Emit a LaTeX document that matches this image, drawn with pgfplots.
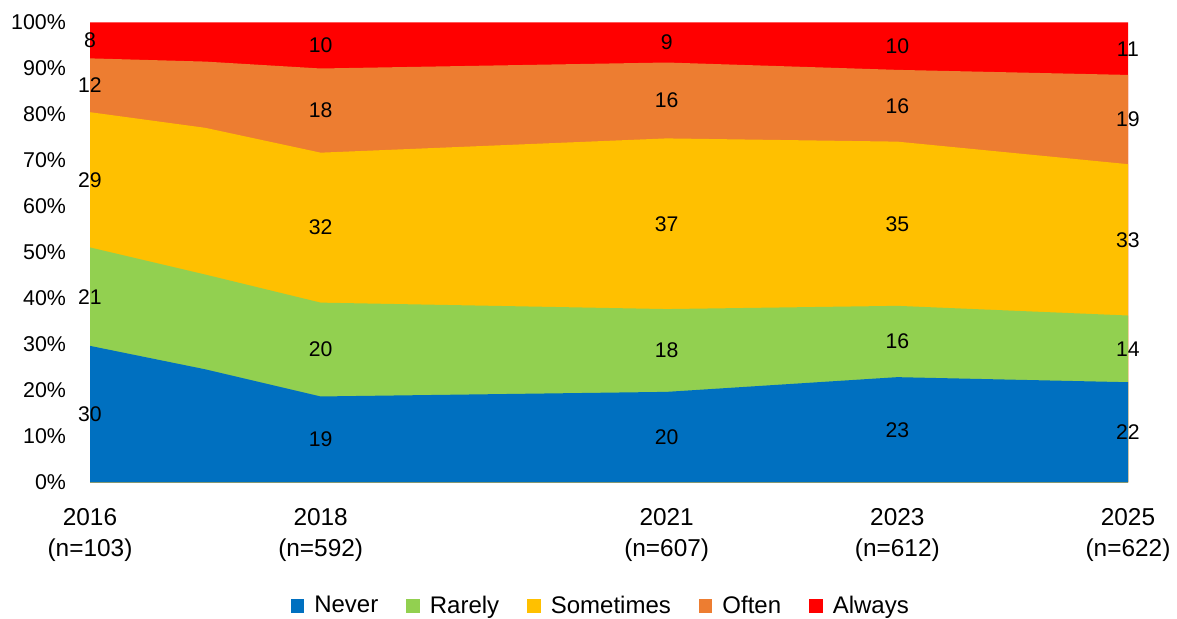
\documentclass[border=0pt]{standalone}
\usepackage{pgfplots}
\usepackage{pgfplotstable}
\pgfplotsset{compat=1.18}
\usepackage{fontspec}
\setmainfont{Liberation Sans}
\definecolor{cNever}{HTML}{0070C0}
\definecolor{cRarely}{HTML}{92D050}
\definecolor{cSometimes}{HTML}{FFC000}
\definecolor{cOften}{HTML}{ED7D31}
\definecolor{cAlways}{HTML}{FF0000}
% cumulative tops of each band (percent)
\pgfplotstableread{
year never rarely sometimes often always
2016 29.7 51.1 80.5 92.2 100
2017 24.6 45.2 77.1 91.5 100
2018 18.7 39.1 71.7 90.0 100
2021 19.7 37.7 74.8 91.3 100
2023 22.9 38.4 74.1 89.7 100
2025 21.8 36.3 69.2 88.6 100
}\bands
% data labels: x, middle of the band, shown value
\pgfplotstableread{
year y lab
2016 14.85 30
2016 40.4 21
2016 65.8 29
2016 86.35 12
2016 96.1 8
2018 9.35 19
2018 28.9 20
2018 55.4 32
2018 80.85 18
2018 95.0 10
2021 9.85 20
2021 28.7 18
2021 56.25 37
2021 83.05 16
2021 95.65 9
2023 11.45 23
2023 30.65 16
2023 56.25 35
2023 81.9 16
2023 94.85 10
2025 10.9 22
2025 29.05 14
2025 52.75 33
2025 78.9 19
2025 94.3 11
}\labels
\begin{document}
\begin{tikzpicture}
\begin{axis}[
  at={(45pt,68.25pt)}, anchor=south west,
  scale only axis, width=519pt, height=230pt,
  xmin=2016, xmax=2025, ymin=0, ymax=100,
  clip=false,
  axis y line*=left,
  y axis line style={draw=none},
  axis x line*=bottom,
  x axis line style={-, draw=black!15, line width=0.8pt},
  major tick length=0pt,
  xtick={2016,2018,2021,2023,2025},
  xticklabels={{2016\\(n=103)},{2018\\(n=592)},{2021\\(n=607)},{2023\\(n=612)},{2025\\(n=622)}},
  xticklabel style={align=center, font=\fontsize{12.2}{15.5}\selectfont, yshift=-9.5pt},
  ytick={0,10,...,100},
  yticklabels={0\%,10\%,20\%,30\%,40\%,50\%,60\%,70\%,80\%,90\%,100\%},
  yticklabel style={font=\fontsize{10.7}{12}\selectfont, xshift=-8.5pt},
  legend style={at={(0.493,-0.2685)}, anchor=center, draw=none, fill=none,
    legend columns=-1, font=\fontsize{12}{14}\selectfont,
    /tikz/every even column/.append style={column sep=12pt},
    /tikz/every odd column/.append style={column sep=3pt}},
  legend image code/.code={\fill[#1] (0pt,-3.4pt) rectangle (6.8pt,3.4pt);},
  reverse legend,
]
\addplot[fill=cAlways, draw=none] table[x=year,y=always] {\bands} \closedcycle;
\addlegendentry{Always}
\addplot[fill=cOften, draw=none] table[x=year,y=often] {\bands} \closedcycle;
\addlegendentry{Often}
\addplot[fill=cSometimes, draw=none] table[x=year,y=sometimes] {\bands} \closedcycle;
\addlegendentry{Sometimes}
\addplot[fill=cRarely, draw=none] table[x=year,y=rarely] {\bands} \closedcycle;
\addlegendentry{Rarely}
\addplot[fill=cNever, draw=none] table[x=year,y=never] {\bands} \closedcycle;
\addlegendentry{Never}
\addplot[forget plot, only marks, mark=none, nodes near coords, point meta=explicit symbolic,
  nodes near coords style={anchor=center, text=black, font=\fontsize{10.6}{12}\selectfont}]
  table[x=year,y=y,meta=lab] {\labels};
\end{axis}
\pgfresetboundingbox
\useasboundingbox (0,0) rectangle (588.5pt,309.5pt);
\end{tikzpicture}
\end{document}
